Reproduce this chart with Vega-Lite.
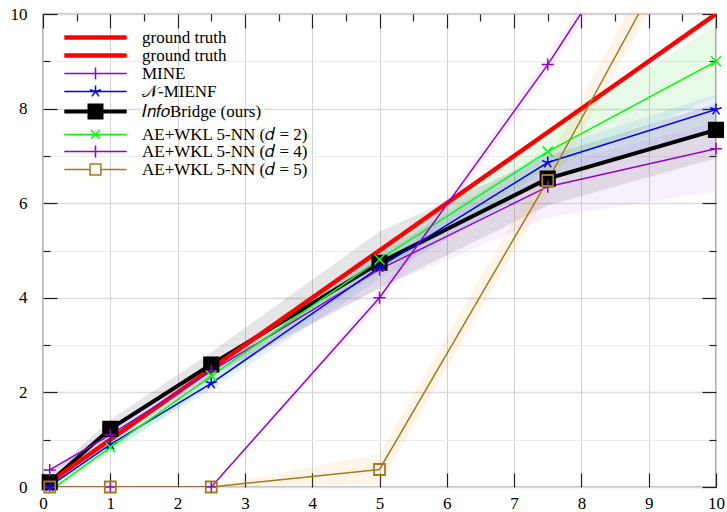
{
 "$schema": "https://vega.github.io/schema/vega-lite/v6.json",
 "width": 673, "height": 473,
 "autosize": {"type": "none"},
 "padding": {"left": 43, "top": 14, "right": 11, "bottom": 25},
 "background": "white",
 "config": {
  "view": {"stroke": "#000", "strokeWidth": 1.2},
  "font": "Liberation Serif",
  "axis": {"domain": false, "labelFont": "Liberation Serif", "labelFontSize": 17, "labelColor": "#000", "tickColor": "#222", "tickWidth": 1.2, "title": null, "labelOverlap": false, "labelFlush": false},
  "legend": {"orient": "none", "legendX": 44, "legendY": 15, "title": null, "padding": 0,
   "labelFont": "Liberation Serif", "labelFontSize": 17, "labelColor": "#000", "labelOffset": 38, "labelLimit": 400,
   "symbolSize": 144, "rowPadding": -3}
 },
 "datasets": {
  "d": [
   {"s": "Info", "x": 0.1, "y": 0.1, "lo": 0.0, "hi": 0.25},
   {"s": "Info", "x": 1, "y": 1.23, "lo": 1.05, "hi": 1.42},
   {"s": "Info", "x": 2.5, "y": 2.59, "lo": 2.35, "hi": 2.85},
   {"s": "Info", "x": 5, "y": 4.74, "lo": 4.2, "hi": 5.4},
   {"s": "Info", "x": 7.5, "y": 6.52, "lo": 5.95, "hi": 7.0},
   {"s": "Info", "x": 10, "y": 7.55, "lo": 6.95, "hi": 8.1},
   {"s": "gt1", "x": 0.1, "y": 0.1, "lo": 0.1, "hi": 0.1},
   {"s": "gt1", "x": 1, "y": 1, "lo": 1, "hi": 1},
   {"s": "gt1", "x": 2.5, "y": 2.5, "lo": 2.5, "hi": 2.5},
   {"s": "gt1", "x": 5, "y": 5, "lo": 5, "hi": 5},
   {"s": "gt1", "x": 7.5, "y": 7.5, "lo": 7.5, "hi": 7.5},
   {"s": "gt1", "x": 10, "y": 10, "lo": 10, "hi": 10},
   {"s": "MINE", "x": 0.1, "y": 0.36, "lo": 0.3, "hi": 0.42},
   {"s": "MINE", "x": 1, "y": 1.1, "lo": 1.0, "hi": 1.2},
   {"s": "MINE", "x": 2.5, "y": 2.45, "lo": 2.3, "hi": 2.6},
   {"s": "MINE", "x": 5, "y": 4.6, "lo": 4.2, "hi": 5.0},
   {"s": "MINE", "x": 7.5, "y": 6.35, "lo": 5.7, "hi": 6.8},
   {"s": "MINE", "x": 10, "y": 7.15, "lo": 6.25, "hi": 7.7},
   {"s": "MIENF", "x": 0.1, "y": 0.02, "lo": 0.0, "hi": 0.12},
   {"s": "MIENF", "x": 1, "y": 0.9, "lo": 0.78, "hi": 1.0},
   {"s": "MIENF", "x": 2.5, "y": 2.19, "lo": 2.05, "hi": 2.35},
   {"s": "MIENF", "x": 5, "y": 4.65, "lo": 4.4, "hi": 4.9},
   {"s": "MIENF", "x": 7.5, "y": 6.86, "lo": 6.5, "hi": 7.15},
   {"s": "MIENF", "x": 10, "y": 7.98, "lo": 7.6, "hi": 8.3},
   {"s": "d2", "x": 0.1, "y": -0.08, "lo": -0.15, "hi": 0.05},
   {"s": "d2", "x": 1, "y": 0.84, "lo": 0.72, "hi": 0.95},
   {"s": "d2", "x": 2.5, "y": 2.35, "lo": 2.15, "hi": 2.5},
   {"s": "d2", "x": 5, "y": 4.81, "lo": 4.55, "hi": 5.05},
   {"s": "d2", "x": 7.5, "y": 7.09, "lo": 6.7, "hi": 7.55},
   {"s": "d2", "x": 10, "y": 9.0, "lo": 8.25, "hi": 9.75},
   {"s": "d4", "x": 0.1, "y": 0, "lo": 0, "hi": 0},
   {"s": "d4", "x": 1, "y": 0, "lo": 0, "hi": 0},
   {"s": "d4", "x": 2.5, "y": 0, "lo": 0, "hi": 0},
   {"s": "d4", "x": 5, "y": 4.0, "lo": 3.85, "hi": 4.15},
   {"s": "d4", "x": 7.5, "y": 8.93, "lo": 8.75, "hi": 9.1},
   {"s": "d4", "x": 10, "y": 14.4, "lo": 14.1, "hi": 14.7},
   {"s": "d5", "x": 0.1, "y": 0, "lo": 0, "hi": 0},
   {"s": "d5", "x": 1, "y": 0, "lo": 0, "hi": 0},
   {"s": "d5", "x": 2.5, "y": 0, "lo": 0, "hi": 0.02},
   {"s": "d5", "x": 5, "y": 0.37, "lo": 0.05, "hi": 0.7},
   {"s": "d5", "x": 7.5, "y": 6.48, "lo": 6.2, "hi": 6.9},
   {"s": "d5", "x": 10, "y": 13.0, "lo": 12.6, "hi": 13.5}
  ]
 },
 "layer": [
  {
   "layer": [
    {
     "data": {"name": "d"},
     "transform": [{"filter": "datum.s !== 'gt1'"}],
     "mark": {"type": "area", "clip": true, "fillOpacity": 0.1},
     "encoding": {
      "x": {"field": "x", "type": "quantitative", "scale": {"domain": [0, 10], "nice": false, "zero": false},
       "axis": {"orient": "bottom", "values": [0,0.5,1,1.5,2,2.5,3,3.5,4,4.5,5,5.5,6,6.5,7,7.5,8,8.5,9,9.5,10],
        "labelExpr": "datum.value % 1 === 0 ? format(datum.value, 'd') : ''",
        "tickSize": {"condition": {"test": "datum.value % 1 === 0", "value": -14}, "value": -7},
        "gridColor": {"condition": {"test": "datum.value % 1 === 0", "value": "#d2d2d2"}, "value": "#ebebeb"},
        "labelPadding": 22}},
      "y": {"field": "lo", "type": "quantitative", "scale": {"domain": [0, 10], "nice": false, "zero": false},
       "axis": {"orient": "left", "values": [0,1,2,3,4,5,6,7,8,9,10],
        "labelExpr": "datum.value % 2 === 0 ? datum.label : ''",
        "tickSize": {"condition": {"test": "datum.value % 2 === 0", "value": -14}, "value": -7},
        "gridColor": {"condition": {"test": "datum.value % 2 === 0", "value": "#dcdcdc"}, "value": "#ececec"},
        "gridWidth": {"condition": {"test": "datum.value % 2 === 0", "value": 1.6}, "value": 1},
        "labelPadding": 30}},
      "y2": {"field": "hi"},
      "fill": {"field": "s", "type": "nominal",
       "scale": {"domain": ["Info", "MINE", "MIENF", "d2", "d4", "d5"], "range": ["#000000", "#c870f0", "#1e6cff", "#10d010", "#c870f0", "#f5a020"]},
       "legend": null}
     }
    },
    {
     "data": {"name": "d"},
     "transform": [{"filter": "datum.s === 'Info'"}],
     "mark": {"type": "line", "clip": true, "strokeWidth": 4},
     "encoding": {
      "x": {"field": "x", "type": "quantitative", "scale": {"domain": [0, 10], "nice": false, "zero": false}},
      "y": {"field": "y", "type": "quantitative", "scale": {"domain": [0, 10], "nice": false, "zero": false}},
      "color": {
       "field": "s", "type": "nominal",
       "scale": {"domain": ["gt1", "gt2", "MINE", "MIENF", "Info", "d2", "d4", "d5"],
        "range": ["#ff0000", "#ff0000", "#9400d3", "#0000ff", "#000000", "#00ff00", "#9400d3", "#a57a1f"]},
       "legend": {
        "labelExpr": "{'gt1':'ground truth','gt2':'ground truth','MINE':'MINE','MIENF':'𝒩-MIENF','Info':'𝐼𝑛𝑓𝑜Bridge (ours)','d2':'AE+WKL 5-NN (𝑑 = 2)','d4':'AE+WKL 5-NN (𝑑 = 4)','d5':'AE+WKL 5-NN (𝑑 = 5)'}[datum.value]",
        "encode": {
         "symbols": {
          "update": {
           "shape": {"signal": "datum.value==='gt1'||datum.value==='gt2' ? 'M-5.2,0L5.2,0' : (datum.value==='MINE'||datum.value==='d4') ? 'M-5.2,0L5.2,0M0,-1L0,1' : datum.value==='MIENF' ? 'M-5.2,0L5.2,0M0,0L0,-1M0,0L-0.95,-0.31M0,0L-0.59,0.81M0,0L0.59,0.81M0,0L0.95,-0.31' : datum.value==='Info' ? 'M-5.2,0L5.2,0M-1,-1L1,-1L1,1L-1,1Z' : datum.value==='d2' ? 'M-5.2,0L5.2,0M-0.75,-0.75L0.75,0.75M-0.75,0.75L0.75,-0.75' : 'M-5.2,0L-0.9,0M0.9,0L5.2,0M-0.9,-0.9L0.9,-0.9L0.9,0.9L-0.9,0.9Z'"},
           "strokeWidth": {"signal": "(datum.value==='gt1'||datum.value==='gt2') ? 4.5 : datum.value==='Info' ? 4 : 1.5"},
           "fill": {"signal": "datum.value==='Info' ? '#000000' : 'transparent'"},
           "opacity": {"value": 1}
          }
         }
        }
       }
      }
     }
    },
    {
     "data": {"name": "d"},
     "transform": [{"filter": "datum.s === 'gt1'"}],
     "mark": {"type": "line", "clip": true, "strokeWidth": 4.5},
     "encoding": {
      "x": {"field": "x", "type": "quantitative", "scale": {"domain": [0, 10], "nice": false, "zero": false}},
      "y": {"field": "y", "type": "quantitative", "scale": {"domain": [0, 10], "nice": false, "zero": false}},
      "color": {"field": "s", "type": "nominal"}
     }
    },
    {
     "data": {"name": "d"},
     "transform": [{"filter": "datum.s !== 'gt1' && datum.s !== 'Info'"}],
     "mark": {"type": "line", "clip": true, "strokeWidth": 1.5},
     "encoding": {
      "x": {"field": "x", "type": "quantitative", "scale": {"domain": [0, 10], "nice": false, "zero": false}},
      "y": {"field": "y", "type": "quantitative", "scale": {"domain": [0, 10], "nice": false, "zero": false}},
      "color": {"field": "s", "type": "nominal"}
     }
    },
    {
     "data": {"name": "d"},
     "transform": [{"filter": "datum.s === 'Info' && datum.y >= 0 && datum.y <= 10"}],
     "mark": {"type": "point", "shape": "square", "size": 200, "filled": true, "color": "#000000", "stroke": "#000000", "strokeWidth": 2, "opacity": 1},
     "encoding": {
      "x": {"field": "x", "type": "quantitative", "scale": {"domain": [0, 10], "nice": false, "zero": false}},
      "y": {"field": "y", "type": "quantitative", "scale": {"domain": [0, 10], "nice": false, "zero": false}}
     }
    },
    {
     "data": {"name": "d"},
     "transform": [{"filter": "(datum.s === 'MINE' || datum.s === 'd4') && datum.y >= 0 && datum.y <= 10"}],
     "mark": {"type": "point", "shape": "M-1,0L1,0M0,-1L0,1", "size": 144, "filled": false, "color": "#9400d3", "strokeWidth": 1.5, "opacity": 1},
     "encoding": {
      "x": {"field": "x", "type": "quantitative", "scale": {"domain": [0, 10], "nice": false, "zero": false}},
      "y": {"field": "y", "type": "quantitative", "scale": {"domain": [0, 10], "nice": false, "zero": false}}
     }
    },
    {
     "data": {"name": "d"},
     "transform": [{"filter": "datum.s === 'MIENF' && datum.y >= 0 && datum.y <= 10"}],
     "mark": {"type": "point", "shape": "M0,0L0,-1M0,0L-0.95,-0.31M0,0L-0.59,0.81M0,0L0.59,0.81M0,0L0.95,-0.31", "size": 144, "filled": false, "color": "#0000ff", "strokeWidth": 1.5, "opacity": 1},
     "encoding": {
      "x": {"field": "x", "type": "quantitative", "scale": {"domain": [0, 10], "nice": false, "zero": false}},
      "y": {"field": "y", "type": "quantitative", "scale": {"domain": [0, 10], "nice": false, "zero": false}}
     }
    },
    {
     "data": {"name": "d"},
     "transform": [{"filter": "datum.s === 'd2' && datum.y >= 0 && datum.y <= 10"}],
     "mark": {"type": "point", "shape": "M-1,-1L1,1M-1,1L1,-1", "size": 100, "filled": false, "color": "#00ff00", "strokeWidth": 1.5, "opacity": 1},
     "encoding": {
      "x": {"field": "x", "type": "quantitative", "scale": {"domain": [0, 10], "nice": false, "zero": false}},
      "y": {"field": "y", "type": "quantitative", "scale": {"domain": [0, 10], "nice": false, "zero": false}}
     }
    },
    {
     "data": {"name": "d"},
     "transform": [{"filter": "datum.s === 'd5' && datum.y >= 0 && datum.y <= 10"}],
     "mark": {"type": "point", "shape": "square", "size": 121, "filled": false, "color": "#a57a1f", "strokeWidth": 1.8, "opacity": 1},
     "encoding": {
      "x": {"field": "x", "type": "quantitative", "scale": {"domain": [0, 10], "nice": false, "zero": false}},
      "y": {"field": "y", "type": "quantitative", "scale": {"domain": [0, 10], "nice": false, "zero": false}}
     }
    }
   ]
  },
  {
   "data": {"name": "d"},
   "mark": {"type": "point", "opacity": 0},
   "encoding": {
    "x": {"field": "x", "type": "quantitative", "scale": {"domain": [0, 10], "nice": false, "zero": false},
     "axis": {"orient": "top", "labels": false, "grid": false, "values": [0,0.5,1,1.5,2,2.5,3,3.5,4,4.5,5,5.5,6,6.5,7,7.5,8,8.5,9,9.5,10],
      "tickSize": {"condition": {"test": "datum.value % 1 === 0", "value": -14}, "value": -7}}},
    "y": {"field": "y", "type": "quantitative", "scale": {"domain": [0, 10], "nice": false, "zero": false},
     "axis": {"orient": "right", "labels": false, "grid": false, "values": [0,1,2,3,4,5,6,7,8,9,10],
      "tickSize": {"condition": {"test": "datum.value % 2 === 0", "value": -14}, "value": -7}}}
   }
  }
 ],
 "resolve": {"axis": {"x": "independent", "y": "independent"}}
}
